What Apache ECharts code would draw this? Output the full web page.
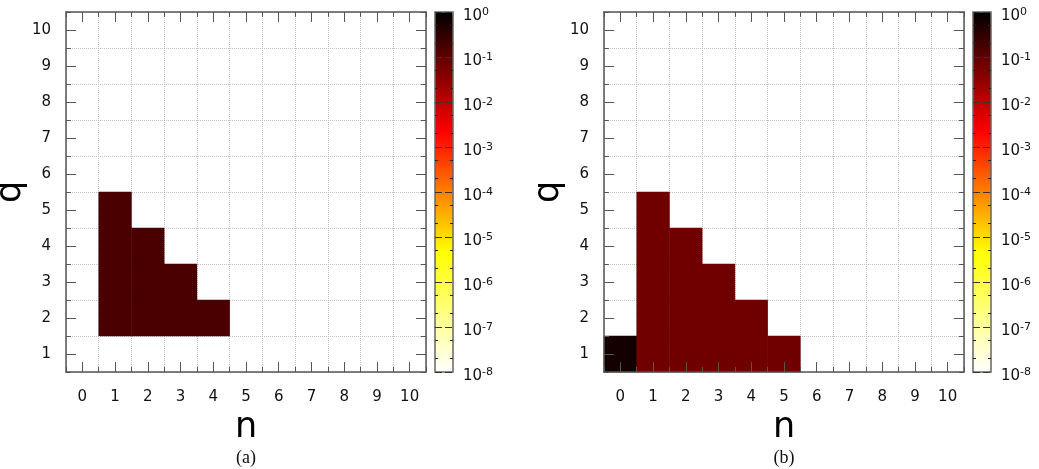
<!DOCTYPE html>
<html>
<head>
<meta charset="utf-8">
<script src="https://cdn.jsdelivr.net/npm/echarts@6/dist/echarts.min.js"></script>
<style>
html,body{margin:0;padding:0;background:#fff;}
#chart{width:1039px;height:469px;}
</style>
</head>
<body>
<div id="chart"></div>
<script>
// ---- data ----
const nCats = ['0','1','2','3','4','5','6','7','8','9','10'];
const qCats = ['1','2','3','4','5','6','7','8','9','10'];
const cbExponents = [0,-1,-2,-3,-4,-5,-6,-7,-8];
const cbMinorFactors = [2,5];

// panel (a)
const aN = [1,1,1,1,2,2,2,3,3,4];
const aQ = [2,3,4,5,2,3,4,2,3,2];
const aP = [0.17,0.17,0.17,0.17,0.17,0.17,0.17,0.17,0.17,0.17];
// panel (b)
const bN = [0,1,1,1,1,1,2,2,2,2,3,3,3,4,4,5];
const bQ = [1,1,2,3,4,5,1,2,3,4,1,2,3,1,2,1];
const bP = [0.6,0.067,0.067,0.067,0.067,0.067,0.067,0.067,0.067,0.067,0.067,0.067,0.067,0.067,0.067,0.067];

const captions = ['(a)','(b)'];

// ---- build ----
const FONT = 'DejaVu Sans';
function cells(ns, qs, ps){
  return ns.map((n,i)=>[nCats.indexOf(String(n)), qCats.indexOf(String(qs[i])), Math.log10(ps[i])]);
}
const minorVals = [];
cbExponents.forEach(e=>{ if(e < 0) cbMinorFactors.forEach(f=>minorVals.push(e + Math.log10(f))); });

const panels = [
  {plotLeft:66, cbLeft:435, capX:246, data:cells(aN,aQ,aP)},
  {plotLeft:604, cbLeft:973, capX:784, data:cells(bN,bQ,bP)}
];
const TOP = 12, SIZE = 360, CBW = 18;
const tickColor = '#555';

const grid = [], xAxis = [], yAxis = [], series = [], visualMap = [], graphic = [];

function tickAxis(base, pos, major){
  return Object.assign({}, base, {
    position: pos, z: 6,
    axisLine: {show: major, onZero:false, lineStyle:{color:'#555', width:1.5}},
    axisTick: {show:true, inside:true, alignWithLabel: major, interval:0, length: major ? 10 : 5, lineStyle:{color:tickColor, width:1}},
    axisLabel: {show:false},
    splitLine: {show:false}
  });
}

panels.forEach((p, pi)=>{
  const g = grid.length;
  grid.push({left:p.plotLeft, top:TOP, width:SIZE, height:SIZE, containLabel:false, outerBoundsMode:'none'});
  const xb = {type:'category', data:nCats, gridIndex:g, boundaryGap:true};
  const yb = {type:'category', data:qCats, gridIndex:g, boundaryGap:true};
  const xi = xAxis.length, yi = yAxis.length;
  xAxis.push(Object.assign({}, xb, {
    position:'bottom', z:0,
    axisLine:{show:false}, axisTick:{show:false},
    splitLine:{show:true, interval:0, lineStyle:{type:'dotted', color:'#c4c4c4', width:1}},
    axisLabel:{interval:0, margin:18, fontSize:15, fontFamily:FONT, color:'#111'},
    name:'n', nameLocation:'middle', nameGap:38,
    nameTextStyle:{fontSize:35, fontFamily:FONT, color:'#000'}
  }));
  xAxis.push(tickAxis(xb,'bottom',true), tickAxis(xb,'bottom',false), tickAxis(xb,'top',true), tickAxis(xb,'top',false));
  yAxis.push(Object.assign({}, yb, {
    position:'left', z:0,
    axisLine:{show:false}, axisTick:{show:false},
    splitLine:{show:true, interval:0, lineStyle:{type:'dotted', color:'#c4c4c4', width:1}},
    axisLabel:{interval:0, margin:15, fontSize:15, fontFamily:FONT, color:'#111'},
    name:'q', nameLocation:'middle', nameGap:26, nameRotate:90,
    nameTextStyle:{fontSize:35, fontFamily:FONT, color:'#000'}
  }));
  yAxis.push(tickAxis(yb,'left',true), tickAxis(yb,'left',false), tickAxis(yb,'right',true), tickAxis(yb,'right',false));

  series.push({
    type:'heatmap', xAxisIndex:xi, yAxisIndex:yi, data:p.data, z:2,
    itemStyle:{borderWidth:0}, emphasis:{disabled:true}, progressive:0
  });

  // colorbar
  visualMap.push({
    type:'continuous', seriesIndex:pi, dimension:2, min:-8, max:0,
    inRange:{color:['#ffffff','#ffff00','#ff0000','#000000']},
    left:p.cbLeft, top:TOP, itemWidth:CBW, itemHeight:SIZE, padding:0,
    calculable:false, text:null, orient:'vertical', hoverLink:false
  });
  const cg = grid.length;
  grid.push({left:p.cbLeft, top:TOP, width:CBW, height:SIZE, show:true, z:10, outerBoundsMode:'none',
             backgroundColor:'transparent', borderColor:'#666', borderWidth:1.5});
  xAxis.push({type:'value', gridIndex:cg, min:0, max:1, show:false});
  yAxis.push({
    type:'value', gridIndex:cg, min:-8, max:0, interval:1, position:'right', z:10,
    axisLine:{show:false}, axisTick:{show:false},
    splitLine:{show:true, lineStyle:{type:[7,3], color:'#333', width:1}},
    axisLabel:{margin:10, fontSize:15, fontFamily:FONT, color:'#111',
      formatter: v => '{m|10}{s|' + v + '}',
      rich:{
        m:{fontSize:15, fontFamily:FONT, color:'#111', lineHeight:16, verticalAlign:'bottom'},
        s:{fontSize:11, fontFamily:FONT, color:'#111', lineHeight:24, verticalAlign:'middle'}
      }}
  });
  ['left','right'].forEach(pos=>{
    yAxis.push({
      type:'value', gridIndex:cg, min:-8, max:0, position:pos, z:10,
      axisLine:{show:false},
      axisTick:{show:true, inside:true, length:3, customValues:minorVals, lineStyle:{color:'#222', width:1}},
      axisLabel:{show:false}, splitLine:{show:false}
    });
  });

  graphic.push({type:'text', x:p.capX, y:458, silent:true,
    style:{text:captions[pi], font:'18px "Liberation Serif", serif', fill:'#111', textAlign:'center', textVerticalAlign:'middle'}});
});

const chart = echarts.init(document.getElementById('chart'), null, {renderer:'canvas'});
chart.setOption({
  animation:false,
  backgroundColor:'#fff',
  grid, xAxis, yAxis, series, visualMap, graphic
});
</script>
</body>
</html>
